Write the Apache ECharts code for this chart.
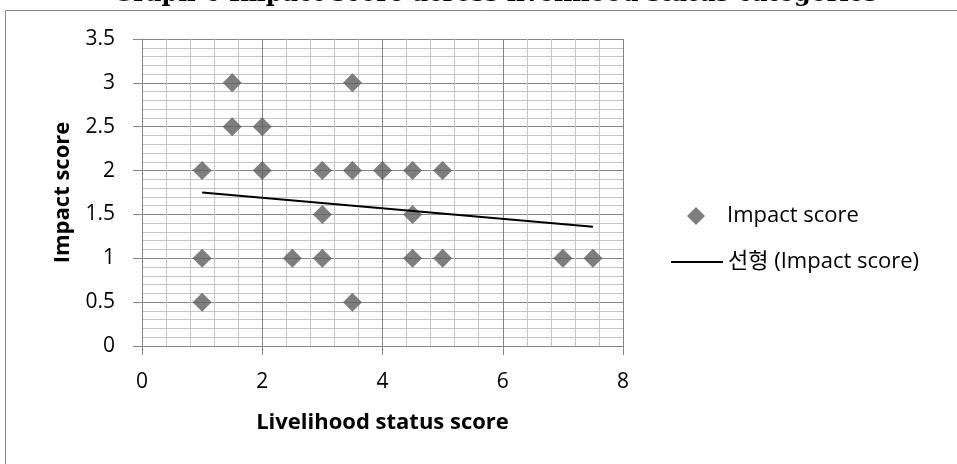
<!DOCTYPE html>
<html>
<head>
<meta charset="utf-8">
<script src="https://cdn.jsdelivr.net/npm/echarts@6/dist/echarts.min.js"></script>
<style>
  html, body { margin: 0; padding: 0; background: #fff; }
  #chart { width: 957px; height: 464px; }
</style>
</head>
<body>
<div id="chart"></div>
<script>
// livelihood status score (x) and impact score (y)
var livelihood = [1, 1, 1, 1.5, 1.5, 2, 2, 2.5, 3, 3, 3, 3.5, 3.5, 3.5, 4, 4.5, 4.5, 4.5, 5, 5, 7, 7.5];
var impact     = [2, 1, 0.5, 3, 2.5, 2.5, 2, 1, 2, 1.5, 1, 3, 2, 0.5, 2, 2, 1.5, 1, 2, 1, 1, 1];
// linear trend line end points as drawn in the original
var trendX = [1, 7.5];
var trendY = [1.75, 1.36];

var fontFamily = "'Open Sans', 'Noto Sans CJK KR', sans-serif";

var chart = echarts.init(document.getElementById('chart'));

var points = [];
for (var i = 0; i < livelihood.length; i++) {
    points.push([livelihood[i], impact[i]]);
}
var trend = [];
for (var j = 0; j < trendX.length; j++) {
    trend.push([trendX[j], trendY[j]]);
}

var option = {
    animation: false,
    title: {
        text: 'Graph 6 Impact score across livelihood status categories',
        left: 490,
        textAlign: 'center',
        top: -22,
        textStyle: {
            fontFamily: "'DejaVu Serif', serif",
            fontWeight: 'bold',
            fontSize: 24,
            color: '#000'
        }
    },
    graphic: [{
        type: 'rect',
        shape: { x: 5.5, y: 10.5, width: 1000, height: 1000 },
        style: { fill: 'none', stroke: '#868686', lineWidth: 1 },
        silent: true,
        z: -1
    }],
    grid: {
        left: 142,
        right: 334,
        top: 39,
        bottom: 118
    },
    legend: [
        {
            // marker legend
            left: 682,
            top: 200,
            itemWidth: 18,
            itemHeight: 18,
            icon: 'diamond',
            textStyle: { fontFamily: fontFamily, fontSize: 22, color: '#000', padding: [0, 0, 0, 17] },
            data: ['Impact score']
        },
        {
            // trend line legend
            left: 666,
            top: 246,
            itemWidth: 52,
            itemHeight: 2,
            icon: 'rect',
            itemStyle: { color: '#000' },
            textStyle: { fontFamily: fontFamily, fontSize: 22, color: '#000' },
            data: ['선형 (Impact score)']
        }
    ],
    xAxis: {
        type: 'value',
        min: 0,
        max: 8,
        interval: 2,
        name: 'Livelihood status score',
        nameLocation: 'middle',
        nameGap: 66,
        nameTextStyle: { fontFamily: fontFamily, fontWeight: 'bold', fontSize: 22, color: '#000' },
        axisLine: { show: true, lineStyle: { color: '#868686' } },
        axisTick: { show: true, length: 9, lineStyle: { color: '#868686' } },
        axisLabel: { margin: 26, fontFamily: fontFamily, fontSize: 21, color: '#000' },
        splitLine: { show: true, lineStyle: { color: '#868686' } },
        minorTick: { show: false, splitNumber: 5 },
        minorSplitLine: { show: true, lineStyle: { color: '#c4c4c4' } }
    },
    yAxis: {
        type: 'value',
        min: 0,
        max: 3.5,
        interval: 0.5,
        name: 'Impact score',
        nameLocation: 'middle',
        nameGap: 68,
        nameRotate: 90,
        nameTextStyle: { fontFamily: fontFamily, fontWeight: 'bold', fontSize: 22, color: '#000' },
        axisLine: { show: true, lineStyle: { color: '#868686' } },
        axisTick: { show: true, length: 9, lineStyle: { color: '#868686' } },
        axisLabel: { margin: 27, fontFamily: fontFamily, fontSize: 21, color: '#000' },
        splitLine: { show: true, lineStyle: { color: '#868686' } },
        minorTick: { show: false, splitNumber: 5 },
        minorSplitLine: { show: true, lineStyle: { color: '#c4c4c4' } }
    },
    series: [
        {
            name: 'Impact score',
            type: 'scatter',
            symbol: 'diamond',
            symbolSize: 19,
            itemStyle: { color: '#5e5e5e' },
            data: points,
            z: 3
        },
        {
            name: '선형 (Impact score)',
            type: 'line',
            symbol: 'none',
            showSymbol: false,
            lineStyle: { color: '#000', width: 2 },
            itemStyle: { color: '#000' },
            data: trend,
            z: 4
        }
    ]
};

chart.setOption(option);
</script>
</body>
</html>
